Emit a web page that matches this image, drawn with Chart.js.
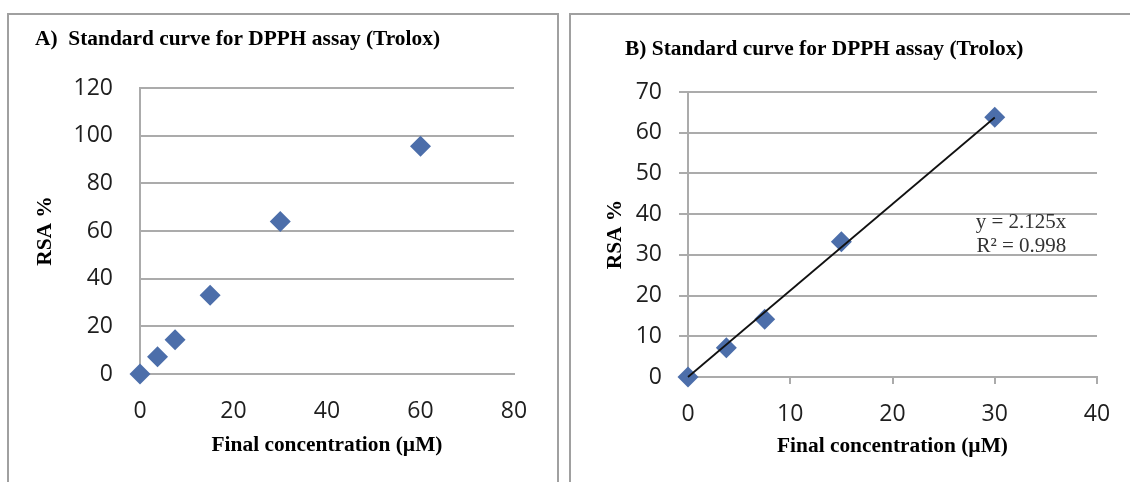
<!DOCTYPE html>
<html><head><meta charset="utf-8">
<script src="https://cdn.jsdelivr.net/npm/chart.js@4.4.0/dist/chart.umd.min.js"></script>
<style>
html,body{margin:0;padding:0;background:#fff;width:1130px;height:482px;overflow:hidden;position:relative}
.panel{position:absolute;border:2px solid #a0a0a0;box-sizing:border-box}
#pA{left:7px;top:13px;width:552px;height:520px}
#pB{left:569px;top:13px;width:600px;height:520px}
.cw{position:absolute}
#wA{left:8px;top:15px;width:548px;height:467px}
#wB{left:571px;top:15px;width:559px;height:467px}
</style></head><body>
<div class="panel" id="pA"></div><div class="panel" id="pB"></div>
<div class="cw" id="wA"><canvas id="cA"></canvas></div>
<div class="cw" id="wB"><canvas id="cB"></canvas></div>
<script>
// ---- data ----
const concA = [0, 3.75, 7.5, 15, 30, 60];
const rsaA  = [0, 7.2, 14.4, 33.1, 64, 95.6];
const concB = [0, 3.75, 7.5, 15, 30];
const rsaB  = [0, 7.2, 14.2, 33.2, 63.8];
const xTicksA = [0, 20, 40, 60, 80];
const yTicksA = [0, 20, 40, 60, 80, 100, 120];
const xTicksB = [0, 10, 20, 30, 40];
const yTicksB = [0, 10, 20, 30, 40, 50, 60, 70];
const slopeB = 2.125;
const eqLines = ['y = 2.125x', 'R\u00b2 = 0.998'];
const eqAnchor = [37, 38];
const titleA = 'A)  Standard curve for DPPH assay (Trolox)';
const titleB = 'B) Standard curve for DPPH assay (Trolox)';
const xTitle = 'Final concentration (\u00b5M)';
const yTitle = 'RSA %';

// ---- styles ----
const GRID = '#ababab';
const MARK = '#4c6eaa';
const TICKFONT = {family: '"Open Sans", sans-serif', size: 23};
const TICKCOLOR = '#1e1e1e';
const SERIFB = {family: '"Liberation Serif", "Times New Roman", serif', size: 21.4, weight: 'bold'};

function pts(xs, ys){ return xs.map((x,i)=>({x:x, y:ys[i]})); }

const eqPlugin = {
  id: 'eq',
  afterDatasetsDraw(chart, args, opts){
    if (!opts || !opts.lines) return;
    const {ctx, scales} = chart;
    const x = scales.x.getPixelForValue(opts.anchor[0]);
    const y = scales.y.getPixelForValue(opts.anchor[1]);
    ctx.save();
    ctx.font = '21px "Liberation Serif", serif';
    ctx.fillStyle = '#333';
    ctx.textAlign = 'right';
    ctx.textBaseline = 'middle';
    opts.lines.forEach((t,i)=>ctx.fillText(t, x, y + i*24));
    ctx.restore();
  }
};

function makeChart(id, cfg){
  const datasets = [{
    type: 'scatter',
    data: pts(cfg.xs, cfg.ys),
    backgroundColor: MARK,
    borderColor: MARK,
    borderWidth: 0,
    pointStyle: 'rectRot',
    pointRadius: 10.5,
    clip: false,
    order: 1
  }];
  if (cfg.trend) {
    const x0 = Math.min(...cfg.xs), x1 = Math.max(...cfg.xs);
    datasets.push({
      type: 'line',
      data: [{x:x0, y:cfg.trend*x0}, {x:x1, y:cfg.trend*x1}],
      borderColor: '#111',
      borderWidth: 1.8,
      pointRadius: 0,
      fill: false,
      clip: false,
      order: 0
    });
  }
  return new Chart(document.getElementById(id), {
    type: 'scatter',
    data: {datasets},
    plugins: [eqPlugin],
    options: {
      responsive: true,
      maintainAspectRatio: false,
      animation: false,
      events: [],
      layout: {padding: {left: cfg.padL, right: cfg.padR, top: 0, bottom: 0}},
      plugins: {
        legend: {display: false},
        tooltip: {enabled: false},
        title: {display: true, text: cfg.title, align: 'start', color: '#000', font: SERIFB,
                padding: {top: cfg.tPadTop, bottom: cfg.tPadBot}},
        eq: cfg.eq || {}
      },
      scales: {
        x: {
          type: 'linear', min: cfg.xTicks[0], max: cfg.xTicks[cfg.xTicks.length-1],
          afterBuildTicks: s => { s.ticks = cfg.xTicks.map(v=>({value:v})); },
          afterFit: s => { s.height = cfg.xH; },
          grid: {display: cfg.xTickMarks, drawOnChartArea: false, drawTicks: cfg.xTickMarks, tickLength: 7, color: GRID, lineWidth: 2},
          border: {display: true, color: GRID, width: 2},
          ticks: {padding: cfg.xTickPad, font: TICKFONT, color: TICKCOLOR, maxRotation: 0},
          title: {display: true, text: xTitle, color: '#000', font: SERIFB, padding: {top: 0, bottom: cfg.xTitlePad}}
        },
        y: {
          type: 'linear', min: cfg.yTicks[0], max: cfg.yTicks[cfg.yTicks.length-1],
          afterBuildTicks: s => { s.ticks = cfg.yTicks.map(v=>({value:v})); },
          afterFit: s => { s.width = cfg.yW; },
          grid: {color: GRID, lineWidth: 2, drawTicks: cfg.yTickMarks, tickLength: 9},
          border: {display: true, color: GRID, width: 2},
          ticks: {padding: cfg.yTickPad, font: TICKFONT, color: TICKCOLOR},
          title: {display: true, text: yTitle, color: '#000',
                  font: Object.assign({}, SERIFB, {lineHeight: 1}),
                  padding: {top: cfg.yTitlePad, bottom: 0}}
        }
      }
    }
  });
}

makeChart('cA', {
  xs: concA, ys: rsaA, xTicks: xTicksA, yTicks: yTicksA, title: titleA,
  padL: 27, padR: 42, tPadTop: 11.4, tPadBot: 36,
  xH: 108, xTickMarks: false, xTickPad: 24, xTitlePad: 23.4,
  yW: 105, yTickMarks: false, yTickPad: 27, yTitlePad: 0
});
makeChart('cB', {
  xs: concB, ys: rsaB, xTicks: xTicksB, yTicks: yTicksB, title: titleB, trend: slopeB,
  eq: {lines: eqLines, anchor: eqAnchor},
  padL: 54, padR: 33, tPadTop: 21.4, tPadBot: 30,
  xH: 105, xTickMarks: true, xTickPad: 17, xTitlePad: 22.4,
  yW: 63, yTickMarks: true, yTickPad: 17, yTitlePad: -20.5
});
</script>
</body></html>
